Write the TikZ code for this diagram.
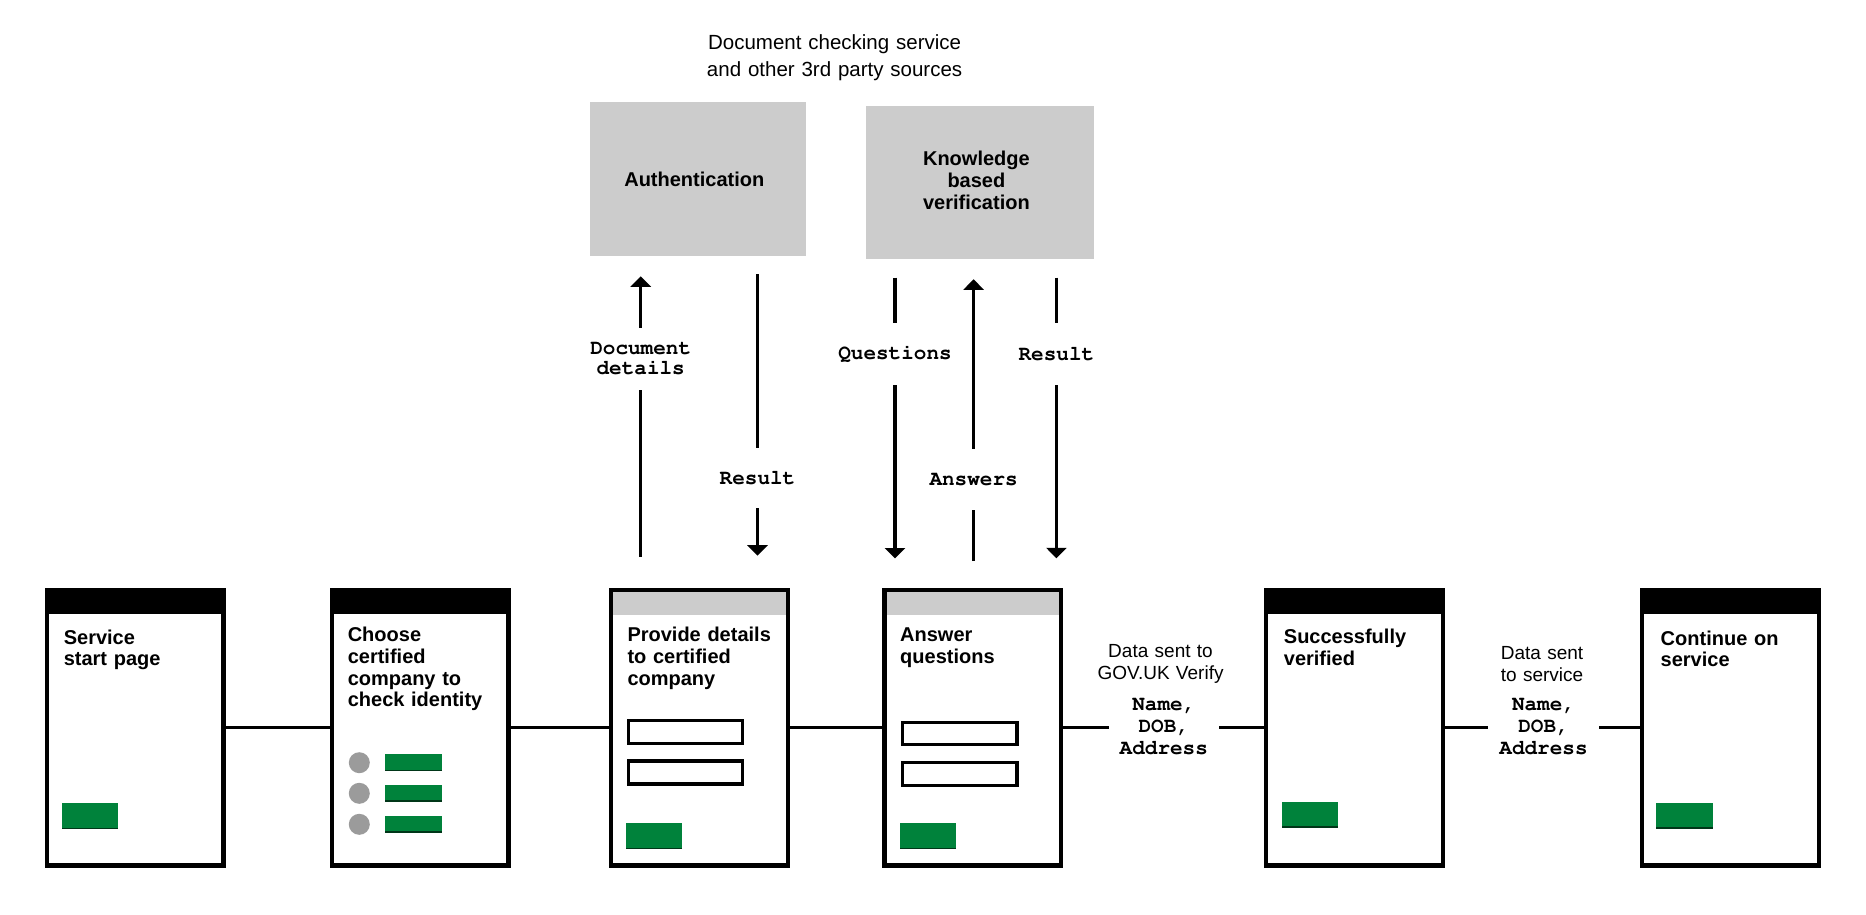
\documentclass[tikz,border=0pt]{standalone}
\usepackage[T1]{fontenc}
\usepackage{fontspec}
\setmainfont{Liberation Sans}
\usetikzlibrary{arrows.meta}

\definecolor{govgreen}{HTML}{00823B}
\definecolor{btnshadow}{HTML}{003618}
\definecolor{panelgray}{HTML}{CCCCCC}
\definecolor{dotgray}{HTML}{9B9B9B}

% slab-serif typewriter bold for data labels
\newcommand\typebold{\fontencoding{T1}\fontfamily{pcr}\fontseries{b}}

% green call-to-action button with a dark lower edge
\newcommand\greenbutton[4]{%
  \fill[govgreen] (#1,#2) rectangle (#3,#4);
  \fill[btnshadow] (#1,{#4-1.6}) rectangle (#3,#4);}

\begin{document}
\begin{tikzpicture}[x=1pt,y=-1pt,
  screen/.style={draw=black, line width=4.4pt, fill=white, inner sep=0pt,
    minimum width=176.6pt, minimum height=275.6pt},
  panel/.style={fill=panelgray, inner sep=0pt},
  title/.style={font=\bfseries\fontsize{20pt}{21.7pt}\selectfont,
    text width=170pt, align=left, anchor=base west, inner sep=0pt},
  ptitle/.style={font=\bfseries\fontsize{20pt}{22pt}\selectfont,
    text width=200pt, align=center, anchor=base, inner sep=0pt},
  note/.style={font=\fontsize{19pt}{21.7pt}\selectfont,
    text width=160pt, align=center, anchor=base, inner sep=0pt},
  vlab/.style={font=\typebold\fontsize{21pt}{20pt}\selectfont, fill=white,
    align=center, inner xsep=3pt, inner ysep=0pt},
  hlab/.style={font=\typebold\fontsize{21pt}{22pt}\selectfont, fill=white,
    align=center, inner xsep=0pt, inner ysep=0pt},
  link/.style={line width=3.3pt},
  flow/.style={line width=3.3pt, -{Triangle[width=20pt,length=10.5pt]}},
  field/.style={draw=black, line width=3.3pt, fill=white},
]
\useasboundingbox (0,0) rectangle (1866,914);
\fill[white] (0,0) rectangle (1866,914);

% ---------- screens along the user journey ----------
\node[screen] (start)    at (135.3,727.5) {};
\node[screen] (choose)   at (420.0,727.5) {};
\node[screen] (provide)  at (699.5,727.5) {};
\node[screen] (answer)   at (972.8,727.5) {};
\node[screen] (verified) at (1354.4,727.5) {};
\node[screen] (continue) at (1730.5,727.5) {};

% service pages: black header bar
\foreach \s in {start,choose,verified,continue}
  \fill[black] (\s.north west) rectangle ([yshift=-26.7pt]\s.north east);
% certified company pages: grey header bar
\foreach \s in {provide,answer}
  \fill[panelgray] ([xshift=4.4pt,yshift=-4.4pt]\s.north west)
    rectangle ([xshift=-4.4pt,yshift=-27.4pt]\s.north east);

% page headings
\node[title] (t1) at (63.6,644)   {Service\\start page};
\node[title] (t2) at (347.6,641.7) {Choose\\certified\\company to\\check identity};
\node[title] (t3) at (627.3,641.7) {Provide details\\to certified\\company};
\node[title] (t4) at (900.0,641.7) {Answer\\questions};
\node[title] (t5) at (1283.7,643.3) {Successfully\\verified};
\node[title] (t6) at (1660.5,645)  {Continue on\\service};

% page contents
\greenbutton{61.8}{803.3}{117.9}{829.3}
\foreach \yc in {762.7,793.3,824.3} {
  \fill[dotgray] (359.3,\yc) circle[radius=10.5pt];
  \greenbutton{385}{\yc-8.7}{441.8}{\yc+8.7}
}
\draw[field] (628.7,720.7) rectangle (742.3,743.3);
\draw[field] (628.7,761.0) rectangle (742.3,784.0);
\greenbutton{626.3}{823.3}{682.3}{849.3}
\draw[field] (902.7,722.4) rectangle (1017.0,744.6);
\draw[field] (902.7,762.7) rectangle (1017.0,785.6);
\greenbutton{900.0}{823.3}{955.7}{849.3}
\greenbutton{1282.1}{801.7}{1338.1}{827.7}
\greenbutton{1656.4}{803.0}{1713.0}{829.0}

% ---------- third party checks ----------
\node[font=\fontsize{20.5pt}{27pt}\selectfont, text width=320pt, align=center,
  anchor=base, inner sep=0pt] (sources) at (834.6,49)
  {Document checking service\\and other 3rd party sources};
\node[panel, minimum width=216.4pt, minimum height=153.7pt] (auth) at (698.2,179.2) {};
\node[panel, minimum width=228.3pt, minimum height=153.5pt] (kbv)  at (980.2,182.7) {};
\node[ptitle] (authtext) at (694.3,186) {Authentication};
\node[ptitle] (kbvtext)  at (976.4,165) {Knowledge\\based\\verification};

% ---------- connectors between screens ----------
\draw[link] (start.east) -- (choose.west);
\draw[link] (choose.east) -- (provide.west);
\draw[link] (provide.east) -- (answer.west);
\draw[link] (answer.east) -- (verified.west);
\draw[link] (verified.east) -- (continue.west);

\node[hlab, minimum width=110pt] (data1) at (1163.8,727) {Name,\\DOB,\\Address};
\node[hlab, minimum width=111pt] (data2) at (1543.5,727) {Name,\\DOB,\\Address};
\node[note] (sent1) at (1160.5,657.3) {Data sent to\\GOV.UK Verify};
\node[note] (sent2) at (1542.0,659.3) {Data sent\\to service};

% ---------- message flows to and from the checks ----------
\coordinate (xa) at (640.7,0);
\coordinate (xb) at (757.5,0);
\coordinate (xc) at (895.0,0);
\coordinate (xd) at (973.6,0);
\coordinate (xe) at (1056.4,0);

\draw[flow, shorten <=30.6pt, shorten >=20pt] (provide.north -| xa) -- (auth.south -| xa);
\draw[flow, shorten <=18pt, shorten >=31.8pt] (auth.south -| xb) -- (provide.north -| xb);
\draw[flow, shorten <=18pt, shorten >=29pt] (kbv.south -| xc) -- (answer.north -| xc);
\draw[flow, shorten <=26.5pt, shorten >=19.6pt] (answer.north -| xd) -- (kbv.south -| xd);
\draw[flow, shorten <=18pt, shorten >=29.2pt] (kbv.south -| xe) -- (answer.north -| xe);

\node[vlab, minimum height=62pt]   (ldoc) at (640.7,359)   {Document\\details};
\node[vlab, minimum height=60.6pt] (lres) at (757.5,478)   {Result};
\node[vlab, minimum height=61.7pt] (lq)   at (895.0,354.2) {Questions};
\node[vlab, minimum height=60.7pt] (lans) at (973.6,479.7) {Answers};
\node[vlab, minimum height=61.7pt] (lkr)  at (1056.4,354.2) {Result};
\end{tikzpicture}
\end{document}
